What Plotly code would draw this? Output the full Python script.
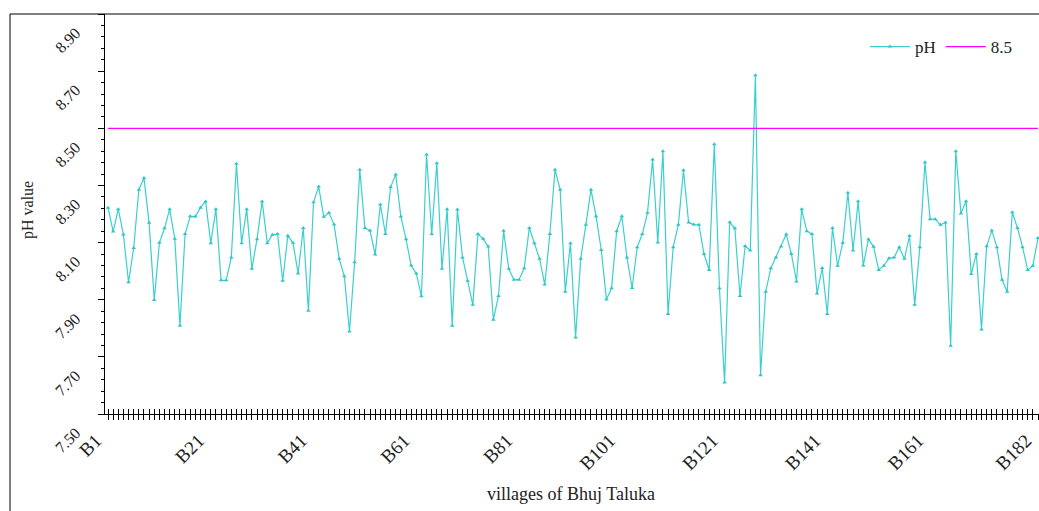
import plotly.graph_objects as go

villages = [f"B{i}" for i in range(1, 183)]
ph_values = [
    8.222, 8.139, 8.217, 8.128, 7.961, 8.081, 8.285, 8.326, 8.169, 7.899,
    8.099, 8.150, 8.217, 8.113, 7.809, 8.130, 8.192, 8.191, 8.222, 8.244,
    8.098, 8.217, 7.968, 7.968, 8.048, 8.376, 8.098, 8.217, 8.008, 8.112,
    8.244, 8.098, 8.127, 8.130, 7.966, 8.124, 8.099, 7.992, 8.151, 7.861,
    8.241, 8.296, 8.190, 8.204, 8.163, 8.043, 7.982, 7.789, 8.031, 8.355,
    8.151, 8.142, 8.058, 8.233, 8.130, 8.294, 8.338, 8.191, 8.112, 8.020,
    7.992, 7.912, 8.408, 8.130, 8.378, 8.008, 8.217, 7.809, 8.216, 8.048,
    7.966, 7.882, 8.130, 8.113, 8.086, 7.830, 7.913, 8.141, 8.008, 7.970,
    7.970, 8.010, 8.151, 8.098, 8.043, 7.953, 8.130, 8.355, 8.285, 7.928,
    8.098, 7.768, 8.043, 8.162, 8.285, 8.191, 8.074, 7.901, 7.940, 8.140,
    8.192, 8.048, 7.941, 8.084, 8.130, 8.204, 8.391, 8.100, 8.420, 7.850,
    8.084, 8.162, 8.353, 8.170, 8.163, 8.162, 8.060, 8.004, 8.444, 7.940,
    7.610, 8.171, 8.150, 7.913, 8.088, 8.072, 8.686, 7.636, 7.928, 8.010,
    8.048, 8.086, 8.129, 8.060, 7.964, 8.217, 8.140, 8.130, 7.922, 8.011,
    7.850, 8.151, 8.019, 8.099, 8.274, 8.072, 8.245, 8.020, 8.112, 8.085,
    8.004, 8.019, 8.045, 8.048, 8.084, 8.043, 8.124, 7.882, 8.084, 8.381,
    8.182, 8.182, 8.162, 8.170, 7.739, 8.420, 8.202, 8.245, 7.990, 8.060,
    7.796, 8.087, 8.142, 8.084, 7.970, 7.928, 8.206, 8.151, 8.084, 8.004,
    8.019, 8.116,
]
limit_value = 8.5
x_tick_labels = ["B1", "B21", "B41", "B61", "B81", "B101", "B121", "B141", "B161", "B182"]
y_tick_values = [7.5, 7.7, 7.9, 8.1, 8.3, 8.5, 8.7, 8.9]

idx = list(range(len(villages)))
label_pos = [villages.index(lbl) for lbl in x_tick_labels]
FONT = "Liberation Serif"

W, H = 1039, 511
ML, MR, MT, MB = 105, 0, 14, 97
PW, PH = W - ML - MR, H - MT - MB

def px_x(p):  # page pixel -> paper x
    return (p - ML) / PW

def px_y(p):  # page pixel -> paper y
    return (H - MB - p) / PH

fig = go.Figure()
fig.add_trace(go.Scatter(
    x=idx, y=ph_values, mode="lines+markers", name="pH",
    line=dict(color="#3CCFCF", width=1.2),
    marker=dict(symbol="triangle-up", size=4, color="#2CC6C6"),
    text=villages, hovertemplate="%{text}: %{y}<extra></extra>",
))
fig.add_trace(go.Scatter(
    x=idx, y=[limit_value] * len(idx), mode="lines", name="8.5", xaxis="x2",
    line=dict(color="#FF00FF", width=1.2), hoverinfo="skip",
))

XR = [-0.584, 181.195]
fig.update_layout(
    width=W, height=H,
    margin=dict(l=ML, r=MR, t=MT, b=MB, autoexpand=False),
    paper_bgcolor="white", plot_bgcolor="white",
    font=dict(family=FONT, size=14, color="#222"),
    showlegend=True,
    legend=dict(orientation="h", x=px_x(1018), xanchor="right", y=px_y(47), yanchor="middle",
                font=dict(family=FONT, size=17, color="#222"), bgcolor="rgba(0,0,0,0)",
                itemwidth=40),
    xaxis=dict(
        range=XR, tickmode="array", tickvals=label_pos, ticktext=x_tick_labels,
        tickangle=-45, showline=True, linecolor="black", linewidth=1, automargin=False,
        ticks="outside", ticklen=5, tickcolor="black", tickwidth=1,
        minor=dict(dtick=1, tick0=0, ticks="outside", ticklen=5, tickcolor="black", tickwidth=1),
        showgrid=False, zeroline=False, ticklabeloverflow="allow",
        ticklabelstandoff=2, ticklabelshift=-12,
        tickfont=dict(family=FONT, size=19, color="#222"),
    ),
    xaxis2=dict(
        range=XR, overlaying="x", anchor="y", side="bottom", showline=False, showgrid=False,
        zeroline=False, automargin=False,
        ticks="inside", ticklen=5, tickcolor="black", tickwidth=1,
        tickmode="linear", tick0=0, dtick=1, showticklabels=False,
    ),
    yaxis=dict(
        range=[7.5, 8.9], tickmode="array", tickvals=y_tick_values, tickformat=".2f",
        tickangle=-45, showline=True, linecolor="black", linewidth=1, automargin=False,
        ticks="outside", ticklen=6, tickcolor="black", tickwidth=1,
        minor=dict(dtick=0.04, tick0=7.5, ticks="outside", ticklen=3, tickcolor="black", tickwidth=1),
        showgrid=False, zeroline=False, ticklabelshift=17, ticklabelstandoff=19,
        ticklabeloverflow="allow",
        tickfont=dict(family=FONT, size=16, color="#222"),
    ),
)

fig.add_annotation(text="pH value", xref="paper", yref="paper", x=px_x(28), y=px_y(210),
                   xanchor="center", yanchor="middle",
                   textangle=-90, showarrow=False, font=dict(family=FONT, size=16, color="#222"))
fig.add_annotation(text="villages of Bhuj Taluka", xref="paper", yref="paper", x=px_x(571), y=px_y(494),
                   xanchor="center", yanchor="middle",
                   showarrow=False, font=dict(family=FONT, size=18, color="#222"))

# outer frame
fig.add_shape(type="line", xref="paper", yref="paper", x0=px_x(10), x1=1.0, y0=1.0, y1=1.0,
              line=dict(color="black", width=1))
fig.add_shape(type="line", xref="paper", yref="paper", x0=px_x(10), x1=px_x(10), y0=1.0, y1=px_y(511),
              line=dict(color="black", width=1))

fig.write_html(
    "out.html",
    config={"displayModeBar": False},
    post_script="document.body.style.margin='0';document.body.style.overflow='hidden';",
)
